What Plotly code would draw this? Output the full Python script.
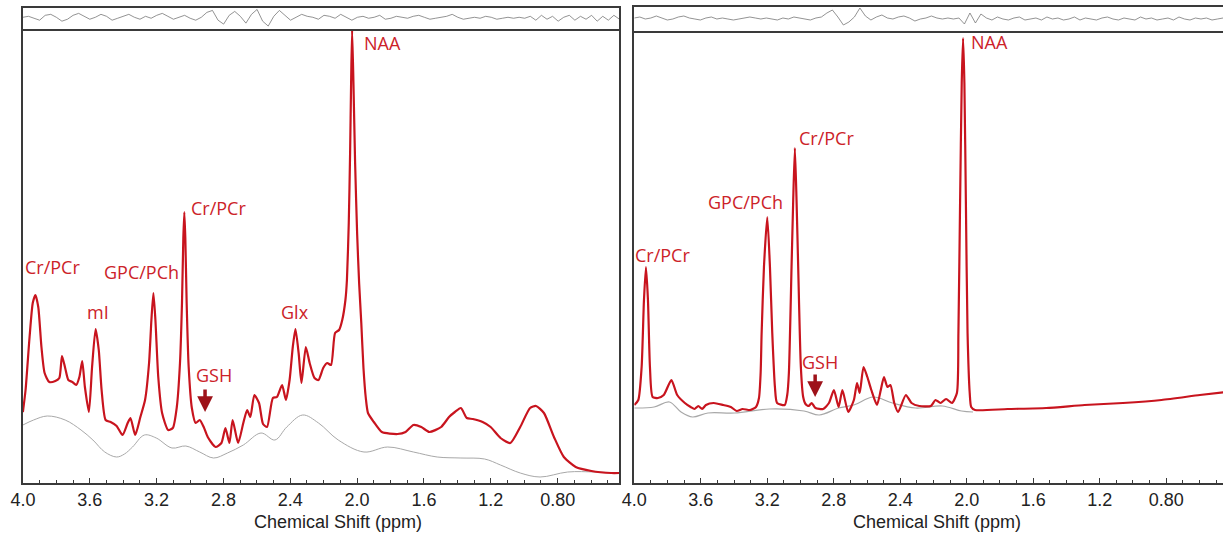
import numpy as np
import plotly.graph_objects as go

# ---------------- data ----------------
# Left spectrum: measured/fit curve (ppm, intensity a.u.)
left_ppm = [4.00, 3.984, 3.960, 3.941, 3.925, 3.908, 3.889, 3.870, 3.842, 3.806, 3.782, 3.766, 3.747,
            3.728, 3.704, 3.681, 3.662, 3.645, 3.629, 3.605, 3.586, 3.565, 3.546, 3.529, 3.505, 3.475,
            3.439, 3.404, 3.373, 3.356, 3.328, 3.297, 3.269, 3.245, 3.231, 3.219, 3.207, 3.190, 3.167,
            3.131, 3.103, 3.079, 3.060, 3.048, 3.040, 3.034, 3.028, 3.020, 3.008, 2.989, 2.966, 2.942,
            2.918, 2.894, 2.847, 2.812, 2.788, 2.764, 2.745, 2.712, 2.681, 2.658, 2.639, 2.615, 2.587,
            2.563, 2.539, 2.504, 2.480, 2.449, 2.426, 2.404, 2.385, 2.369, 2.350, 2.333, 2.307, 2.284,
            2.255, 2.231, 2.203, 2.179, 2.156, 2.132, 2.108, 2.089, 2.070, 2.061, 2.050, 2.042, 2.036,
            2.030, 2.022, 2.012, 2.000, 1.988, 1.975, 1.962, 1.948, 1.935, 1.900, 1.852, 1.758, 1.710,
            1.663, 1.616, 1.568, 1.497, 1.450, 1.415, 1.379, 1.344, 1.308, 1.249, 1.201, 1.142, 1.083,
            1.024, 0.965, 0.929, 0.882, 0.822, 0.763, 0.692, 0.598, 0.479, 0.432]
left_int = [71, 93, 146, 180, 188, 176, 136, 110, 101, 102, 105, 127, 115,
            103, 101, 98, 106, 122, 96, 71, 116, 154, 133, 93, 63, 61,
            57, 48, 60, 65, 48, 66, 83, 120, 163, 190, 163, 106, 70,
            53, 55, 76, 120, 180, 245, 271, 245, 180, 116, 75, 60, 63,
            56, 46, 36, 40, 55, 40, 63, 40, 60, 73, 66, 88, 80,
            59, 56, 85, 86, 98, 83, 103, 136, 154, 130, 100, 136, 120,
            105, 103, 115, 120, 118, 150, 153, 163, 183, 203, 260, 330, 400,
            453, 400, 320, 250, 200, 160, 115, 85, 70, 61, 51, 49, 51,
            58, 56, 51, 56, 66, 71, 75, 65, 64, 61, 56, 45, 40,
            56, 75, 77, 70, 46, 26, 16, 12, 10, 10]

# Left spectrum: baseline (gray)
left_base_ppm = [4.00, 3.936, 3.854, 3.747, 3.652, 3.581, 3.510, 3.439, 3.392, 3.344, 3.273, 3.202,
                 3.108, 3.025, 2.942, 2.859, 2.776, 2.681, 2.575, 2.492, 2.421, 2.326, 2.231, 2.113,
                 1.959, 1.817, 1.663, 1.521, 1.379, 1.237, 1.142, 1.024, 0.905, 0.740, 0.574, 0.432]
left_base_int = [58, 63, 67, 63, 53, 43, 31, 26, 29, 36, 48, 45,
                 35, 37, 31, 25, 30, 38, 50, 43, 56, 68, 60, 43,
                 31, 36, 31, 26, 25, 24, 18, 10, 6, 11, 11, 10]

# Right spectrum: measured/fit curve
right_ppm = [4.00, 3.976, 3.956, 3.942, 3.930, 3.918, 3.906, 3.890, 3.858, 3.823, 3.777, 3.742, 3.696,
             3.661, 3.638, 3.615, 3.592, 3.569, 3.523, 3.465, 3.419, 3.384, 3.349, 3.303, 3.268, 3.250,
             3.240, 3.234, 3.220, 3.200, 3.184, 3.170, 3.154, 3.141, 3.095, 3.080, 3.070, 3.054, 3.044,
             3.034, 3.024, 3.014, 2.998, 2.984, 2.970, 2.951, 2.933, 2.910, 2.864, 2.829, 2.799, 2.771,
             2.748, 2.713, 2.679, 2.660, 2.644, 2.621, 2.598, 2.574, 2.540, 2.517, 2.498, 2.477, 2.459,
             2.436, 2.413, 2.366, 2.332, 2.285, 2.216, 2.188, 2.158, 2.124, 2.089, 2.059, 2.050, 2.040,
             2.030, 2.022, 2.014, 2.005, 1.995, 1.982, 1.973, 1.950, 1.754, 1.522, 1.291, 1.060, 0.828,
             0.597, 0.440]
right_int = [78, 83, 116, 183, 216, 183, 116, 86, 85, 88, 103, 88, 80,
             76, 74, 77, 74, 78, 80, 78, 76, 72, 74, 73, 76, 85,
             110, 150, 216, 266, 216, 150, 96, 80, 78, 88, 110, 216, 283,
             335, 283, 216, 116, 86, 79, 77, 80, 75, 74, 80, 93, 76,
             93, 71, 83, 100, 90, 116, 106, 93, 78, 93, 106, 96, 98,
             80, 71, 88, 80, 77, 77, 83, 80, 84, 80, 90, 150, 280,
             400, 445, 400, 280, 150, 90, 76, 73, 74, 75, 78, 80, 83,
             88, 91]

# Right spectrum: baseline (gray)
right_base_ppm = [4.00, 3.881, 3.789, 3.719, 3.650, 3.557, 3.396, 3.187, 2.979, 2.887, 2.771, 2.679,
                  2.563, 2.447, 2.308, 2.147, 2.031, 1.962]
right_base_int = [75, 76, 81, 71, 66, 70, 70, 74, 72, 68, 75, 78,
                  86, 80, 75, 77, 72, 71]

# Fit residuals (top strips), evenly sampled from 4.0 to the right edge
left_resid = [1, 2, 0, -2, 3, 4, 1, -3, -1, 3, 5, 2, -1, 1, 4, 2, -2, 0,
              2, 4, 1, -1, 2, 0, 3, 5, 2, -1, 1, 3, 0, -2, 1,
              6, 8, -2, -6, 3, 7, 2, -5, 4, 9, -3, -8, 2, 8, 3, -2, 1, 4,
              2, 1, -1, 3, 2, 0, 4, 1, -2, 1, 2, 0, 1, 3, -1, 0, 2, 1, 0, 2,
              3, 1, -1, 0, 1, 2, 4, 1, -1, 0, 1, 0, 2, 1, -1, 0, 1, 0, 1, 0,
              2, -2, 3, -1, 2, -3, 1, 3, -2, 2, -1, 3, -3, 2, -2, 3, -1]
right_resid = [1, 2, 0, 1, 3, 1, -1, 0, 2, 3, 1, 0, -1, 1, 2, 0, 1, 0, -1, 0, 1, 2, 1, 0,
               1, 0, -1, 1, 0, 2, 1, 0, -1, 1,
               2, 6, 9, 2, -6, -3, 2, 11, 3, -1, 2, 4,
               1, 0, 2, 3, 1, -2, 0, 1, 3, 1, 0, 1, 0, 1,
               -5, 6, -4, 5,
               1, -1, 2, 0, -1, 1, 2, -1, 0, 1, -1, 2, 0, 1, -1, 0, 2, -1, 1, 0, -1, 1,
               2, 0, -1, 1, 0, -1, 2, 0, 1, -1, 0, 1, -1, 2, 0, -1, 1, 0, 1, -1, 0, 1]

tick_vals = [4.0, 3.6, 3.2, 2.8, 2.4, 2.0, 1.6, 1.2, 0.8]
tick_text = ["4.0", "3.6", "3.2", "2.8", "2.4", "2.0", "1.6", "1.2", "0.80"]

# ---------------- styling ----------------
W, H = 1223, 533
RED = "#c8141e"
LABEL_RED = "#cc2229"
ARROW_RED = "#9e1219"
GRAY = "#a8a8a8"
FRAME = "#3a3a3a"
NUM_FONT = dict(family="Liberation Sans, Arial, sans-serif", size=18, color="#222222")
LBL_FONT = dict(family="Open Sans, Noto Sans, sans-serif", size=18, color=LABEL_RED)

LEFT_RANGE = [4.0, 0.43]
RIGHT_RANGE = [4.0, 0.458]

def px_x(p):
    return p / W

def px_y(p):
    return 1 - p / H

fig = go.Figure()

# residuals
res_x_left = np.linspace(LEFT_RANGE[0], LEFT_RANGE[1], len(left_resid))
res_x_right = np.linspace(RIGHT_RANGE[0], RIGHT_RANGE[1], len(right_resid))
fig.add_trace(go.Scatter(x=res_x_left, y=left_resid, xaxis="x2", yaxis="y2", mode="lines",
                         line=dict(color="#777777", width=0.8), hoverinfo="skip"))
fig.add_trace(go.Scatter(x=res_x_right, y=right_resid, xaxis="x4", yaxis="y4", mode="lines",
                         line=dict(color="#777777", width=0.8), hoverinfo="skip"))

# baselines
fig.add_trace(go.Scatter(x=left_base_ppm, y=left_base_int, xaxis="x", yaxis="y", mode="lines",
                         line=dict(color=GRAY, width=1, shape="spline", smoothing=1.0)))
fig.add_trace(go.Scatter(x=right_base_ppm, y=right_base_int, xaxis="x3", yaxis="y3", mode="lines",
                         line=dict(color=GRAY, width=1.2, shape="spline", smoothing=1.0)))

# spectra
fig.add_trace(go.Scatter(x=left_ppm, y=left_int, xaxis="x", yaxis="y", mode="lines",
                         line=dict(color=RED, width=2.2, shape="spline", smoothing=0.6)))
fig.add_trace(go.Scatter(x=right_ppm, y=right_int, xaxis="x3", yaxis="y3", mode="lines",
                         line=dict(color=RED, width=2.2, shape="spline", smoothing=0.6)))

left_dom = [px_x(10), px_x(613)]
right_dom = [px_x(628), 1.0]

main_x = dict(showline=True, mirror=False, linecolor=FRAME, linewidth=1.5,
              ticks="inside", ticklen=5, tickwidth=1, tickcolor=FRAME,
              tickvals=tick_vals, ticktext=tick_text, tickfont=NUM_FONT,
              minor=dict(dtick=0.1, tick0=0, ticks="inside", ticklen=3, tickcolor=FRAME),
              showgrid=False, zeroline=False)
frame_common = dict(showline=True, linecolor=FRAME, linewidth=1.5, ticks="",
                    showticklabels=False, showgrid=False, zeroline=False)

fig.update_layout(
    width=W, height=H, margin=dict(l=0, r=0, t=0, b=0),
    paper_bgcolor="white", plot_bgcolor="white", showlegend=False,
    xaxis=dict(main_x, domain=left_dom, range=LEFT_RANGE, anchor="y"),
    yaxis=dict(frame_common, mirror=True, domain=[px_y(483), px_y(29)], range=[0, 454], anchor="x"),
    xaxis2=dict(frame_common, mirror=True, domain=left_dom, range=LEFT_RANGE, anchor="y2"),
    yaxis2=dict(frame_common, mirror=True, domain=[px_y(29), px_y(7.5)], range=[-11, 11], anchor="x2"),
    xaxis3=dict(main_x, domain=right_dom, range=RIGHT_RANGE, anchor="y3"),
    yaxis3=dict(frame_common, mirror=False, domain=[px_y(483), px_y(31)], range=[0, 452], anchor="x3"),
    xaxis4=dict(frame_common, mirror=True, domain=right_dom, range=RIGHT_RANGE, anchor="y4"),
    yaxis4=dict(frame_common, mirror=False, domain=[px_y(31), px_y(7)], range=[-12, 12], anchor="x4"),
)

# peak labels
left_labels = [("NAA", 1.849, 440), ("Cr/PCr", 2.832, 275), ("Cr/PCr", 3.820, 216),
               ("GPC/PCh", 3.293, 211), ("mI", 3.551, 171), ("Glx", 2.370, 171), ("GSH", 2.856, 108)]
right_labels = [("NAA", 1.865, 441), ("Cr/PCr", 2.845, 345), ("Cr/PCr", 3.830, 228),
                ("GPC/PCh", 3.330, 281), ("GSH", 2.885, 121)]
for t, xv, yv in left_labels:
    fig.add_annotation(x=xv, y=yv, xref="x", yref="y", text=t, showarrow=False, font=LBL_FONT)
for t, xv, yv in right_labels:
    fig.add_annotation(x=xv, y=yv, xref="x3", yref="y3", text=t, showarrow=False, font=LBL_FONT)

# GSH arrows
for xr, yr, xv, yv in [("x", "y", 2.910, 71), ("x3", "y3", 2.912, 86)]:
    fig.add_annotation(x=xv, y=yv, xref=xr, yref=yr, ax=0, ay=-24, text="", showarrow=True,
                       arrowhead=2, arrowsize=0.9, arrowwidth=3.5, arrowcolor=ARROW_RED)

# axis titles
for cx in [328, 934]:
    fig.add_annotation(x=px_x(cx), y=px_y(522), xref="paper", yref="paper",
                       text="Chemical Shift (ppm)", showarrow=False,
                       font=NUM_FONT, xanchor="center", yanchor="middle")

fig.write_html("out.html", config={"displayModeBar": False},
               post_script="document.body.style.margin='0';document.body.style.overflow='hidden';")
